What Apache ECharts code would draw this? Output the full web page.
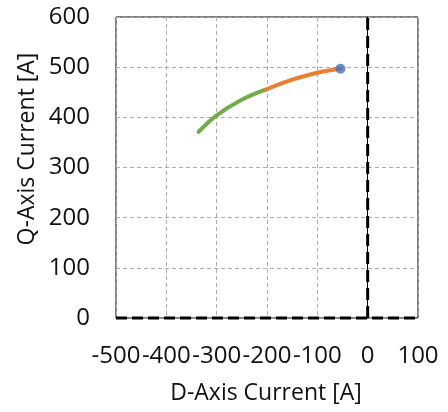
<!DOCTYPE html>
<html>
<head>
<meta charset="utf-8">
<script src="https://cdn.jsdelivr.net/npm/echarts@6/dist/echarts.min.js"></script>
<style>html,body{margin:0;padding:0;background:#fff}#c{width:448px;height:412px}</style>
</head>
<body>
<div id="c"></div>
<script>
// Data
var xTicks = [-500, -400, -300, -200, -100, 0, 100];
var yTicks = [0, 100, 200, 300, 400, 500, 600];
var greenCurve = [[-336, 371], [-300, 404], [-252, 434], [-203, 455]];
var orangeCurve = [[-203, 455], [-150, 475], [-100, 489], [-68, 495], [-54, 497]];
var operatingPoint = [[-54, 497]];
var dAxisZeroLine = [[0, 0], [0, 600]];
var qAxisZeroLine = [[-500, 0], [100, 0]];
var xTitle = 'D-Axis Current [A]';
var yTitle = 'Q-Axis Current [A]';

var FONT = '"Open Sans"';
var chart = echarts.init(document.getElementById('c'), null, {renderer: 'canvas'});
chart.setOption({
  animation: false,
  backgroundColor: '#fff',
  grid: {left: 116, right: 30, top: 17, bottom: 94, show: true, borderColor: '#000', borderWidth: 1, backgroundColor: 'transparent'},
  xAxis: {
    type: 'value', min: xTicks[0], max: xTicks[xTicks.length - 1], interval: 100,
    axisLine: {show: false}, axisTick: {show: false},
    axisLabel: {fontFamily: FONT, fontSize: 24, color: '#111', margin: 26, showMinLabel: true, showMaxLabel: true, hideOverlap: false},
    splitLine: {show: true, lineStyle: {color: '#ABABAB', type: [4, 3], width: 1}}
  },
  yAxis: {
    type: 'value', min: yTicks[0], max: yTicks[yTicks.length - 1], interval: 100,
    axisLine: {show: true, lineStyle: {color: '#000', width: 1}}, axisTick: {show: false},
    axisLabel: {fontFamily: FONT, fontSize: 24, color: '#111', margin: 26},
    splitLine: {show: true, lineStyle: {color: '#ABABAB', type: [4, 3], width: 1}}
  },
  graphic: [
    {type: 'text', x: 266, y: 393, style: {text: xTitle, font: '23px ' + FONT, fill: '#111', textAlign: 'center', textVerticalAlign: 'middle'}},
    {type: 'text', rotation: Math.PI / 2, x: 27, y: 149, style: {text: yTitle, font: '23px ' + FONT, fill: '#111', textAlign: 'center', textVerticalAlign: 'middle'}}
  ],
  series: [
    {type: 'line', data: qAxisZeroLine, symbol: 'none', clip: false, z: 5,
     lineStyle: {color: '#000', width: 3, type: [11, 5]}},
    {type: 'line', data: dAxisZeroLine, symbol: 'none', clip: false, z: 5,
     lineStyle: {color: '#000', width: 3, type: [12, 6]}},
    {type: 'line', data: greenCurve, symbol: 'none', smooth: 0.4, z: 6,
     lineStyle: {color: '#70AD47', width: 4, cap: 'round'}},
    {type: 'line', data: orangeCurve, symbol: 'none', smooth: 0.4, z: 6,
     lineStyle: {color: '#ED7D31', width: 4, cap: 'round'}},
    {type: 'scatter', data: operatingPoint, symbol: 'circle', symbolSize: 10, z: 7,
     itemStyle: {color: '#4472C4'}}
  ]
});
</script>
</body>
</html>
